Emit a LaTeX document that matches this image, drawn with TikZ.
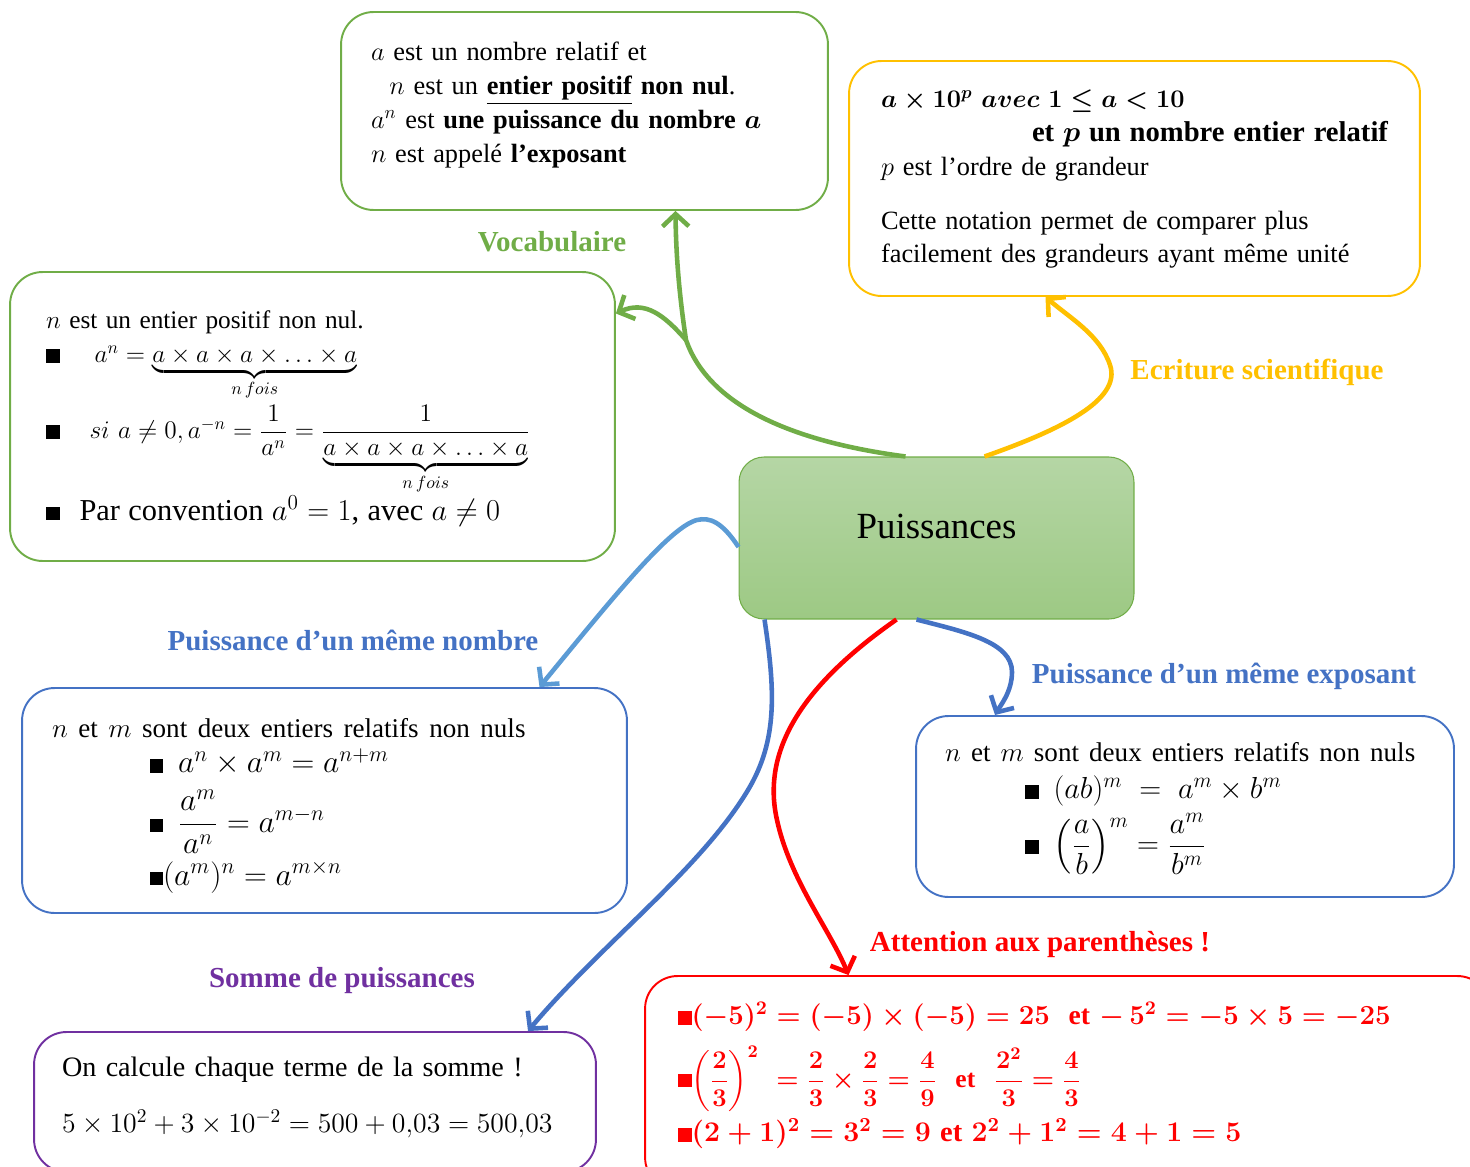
\RequirePackage{fix-cm}
\documentclass[tikz,border=0pt]{standalone}
\usepackage{amsmath, amssymb}
\usepackage{fontspec}
\setmainfont{Liberation Serif}
\usepackage{tikz}
\usetikzlibrary{arrows.meta,calc}

\definecolor{vertG}{RGB}{112,173,71}
\definecolor{jaune}{RGB}{255,192,0}
\definecolor{bleuC}{RGB}{91,155,213}
\definecolor{bleuF}{RGB}{68,114,196}
\definecolor{violet}{RGB}{112,48,160}
\definecolor{vertHaut}{RGB}{181,214,165}
\definecolor{vertBas}{RGB}{157,201,132}

\newcommand{\puce}{\rule{0.27cm}{0.27cm}}

\begin{document}
\begin{tikzpicture}[x=0.02cm, y=-0.02cm,
    every node/.style={font=\fontsize{15}{19.3}\selectfont},
    boite/.style={draw, line width=1.1pt, rounded corners=0.65cm, align=left, inner ysep=0pt},
    fleche/.style={line width=2.6pt, -{Straight Barb[length=7pt,width=15pt]}},
    etiquette/.style={font=\fontsize{16.5}{20}\selectfont\bfseries}]

    % 1. Cadre de l'image
    \clip (0,0) rectangle (1470,1166);

    % 2. Noeud central
    \node[draw=vertG, line width=0.6pt, rounded corners=0.5cm, top color=vertHaut, bottom color=vertBas,
          minimum width=7.9cm, minimum height=3.24cm, text depth=0.45cm,
          font=\fontsize{21}{25}\selectfont] (centre) at (936.5,538) {Puissances};

    % 3. Boites du haut
    \node[boite, draw=vertG, minimum height=3.96cm, text width=8.54cm, inner xsep=0.6cm, text depth=2.4cm] (vocab) at (584.5,111) {
        $a$ est un nombre relatif et\\
        \hspace*{0.7em}$n$ est un \underline{\textbf{entier positif}} \textbf{non nul}.\\
        $a^n$ est \textbf{une puissance du nombre $\boldsymbol{a}$}\\
        $n$ est appelé \textbf{l’exposant}};

    \node[boite, draw=jaune, minimum height=4.7cm, text width=10.14cm, inner xsep=0.64cm, text depth=3.2cm] (sci) at (1134.5,178.5) {
        {\fontsize{14.4}{19.3}\selectfont\boldmath $a\times 10^{p}\ avec\ 1\leq a<10$}\\
        \hspace*{0pt plus 1filll}{\fontsize{16.3}{19.3}\selectfont\bfseries et \boldmath$p$ un nombre entier relatif}\\
        $p$ est l’ordre de grandeur\\[0.4cm]
        Cette notation permet de comparer plus\\
        facilement des grandeurs ayant même unité};

    \node[boite, draw=vertG, minimum height=5.78cm, text width=10.66cm, inner xsep=0.72cm, text depth=3.86cm,
          font=\fontsize{14.4}{19.3}\selectfont] (defin) at (312.5,416.5) {
        $n$ est un entier positif non nul.\\
        \puce\hspace{0.7cm}$a^n=\underbrace{a\times a\times a\times\ldots\times a}_{n\,fois}$\\[0.05cm]
        \puce\hspace{0.6cm}$si\ a\neq0, a^{-n}=\dfrac{1}{a^n}=\dfrac{1}{\underbrace{a\times a\times a\times\ldots\times a}_{n\,fois}}$\\
        \puce\hspace{0.4cm}{\fontsize{17.3}{20}\selectfont Par convention $a^0=1$, avec $a\neq0$}};

    % 4. Boites du milieu
    \node[boite, draw=bleuF, minimum height=4.5cm, text width=10.9cm, inner xsep=0.6cm, text depth=2.89cm,
          font=\fontsize{18}{20}\selectfont] (nombre) at (324.5,800.5) {
        \mbox{\fontsize{15.4}{20}\selectfont $n$ et $m$ sont deux entiers relatifs non nuls}\\
        \hspace*{1.95cm}\puce\hspace{0.3cm}$a^n\times a^m=a^{n+m}$\\[0.25cm]
        \hspace*{1.95cm}\puce\hspace{0.3cm}$\dfrac{a^m}{a^n}=a^{m-n}$\\[0.1cm]
        \hspace*{1.95cm}\puce$(a^m)^n=a^{m\times n}$};

    \node[boite, draw=bleuF, minimum height=3.62cm, text width=9.6cm, inner xsep=0.58cm, text depth=2.17cm,
          font=\fontsize{17.3}{21}\selectfont] (exposant) at (1185,806.5) {
        \mbox{\fontsize{15.4}{20}\selectfont $n$ et $m$ sont deux entiers relatifs non nuls}\\
        \hspace*{1.6cm}\puce\hspace{0.3cm}$(ab)^m\;=\;a^m\times b^m$\\[0.1cm]
        \hspace*{1.6cm}\puce\hspace{0.3cm}$\left(\dfrac{a}{b}\right)^{m}=\dfrac{a^m}{b^m}$};

    % 5. Boites du bas
    \node[boite, draw=violet, minimum height=2.8cm, text width=10.12cm, inner xsep=0.56cm, text depth=1.43cm,
          font=\fontsize{16}{20}\selectfont] (somme) at (315,1102) {
        On calcule chaque terme de la somme !\\[0.42cm]
        {\fontsize{15.8}{20}\selectfont $5\times10^2+3\times10^{-2}=500+0{,}03=500{,}03$}\hspace*{\fill}};

    \node[boite, draw=red, minimum height=4.28cm, text width=15.58cm, inner xsep=0.66cm, text depth=2.78cm, text=red,
          font=\fontsize{16}{21}\selectfont\bfseries\boldmath] (attention) at (1067.5,1083) {
        \puce{\fontsize{15.7}{21}\selectfont$(-5)^2=(-5)\times(-5)=25$\ \ et $-\,5^2=-5\times5=-25$}\\[0.25cm]
        \puce{\fontsize{14.5}{21}\selectfont$\left(\dfrac{2}{3}\right)^{2}\ =\dfrac{2}{3}\times\dfrac{2}{3}=\dfrac{4}{9}$\ \ et\ \ $\dfrac{2^2}{3}=\dfrac{4}{3}$}\\[0.1cm]
        \puce{\fontsize{16.2}{21}\selectfont$(2+1)^2=3^2=9$\ et\ $2^2+1^2=4+1=5$}};

    % 6. Etiquettes des branches
    \node[etiquette, text=vertG] (lvocab) at (552,242) {Vocabulaire};
    \node[etiquette, text=jaune] (lsci) at (1257,372) {Ecriture scientifique};
    \node[etiquette, text=bleuF] (lnombre) at (353,640) {Puissance d’un même nombre};
    \node[etiquette, text=bleuF] (lexposant) at (1224,676) {Puissance d’un même exposant};
    \node[etiquette, text=red] (lattention) at (1040,945) {Attention aux parenthèses !};
    \node[etiquette, text=violet] (lsomme) at (342,981) {Somme de puissances};

    % 7. Branches
    \coordinate (fourche) at (686,340);
    \draw[fleche, vertG] ($(centre.north)+(-31,0)$) .. controls (780,440) and (707,400) .. (fourche)
        .. controls (680,300) and (676,260) .. ($(vocab.south)+(91,0)$);
    \draw[fleche, vertG] (fourche) .. controls (664,315) and (645,300) .. ($(defin.east)+(0,-103)$);
    \draw[fleche, jaune] ($(centre.north)+(48,0)$) .. controls (1060,430) and (1122,400) .. (1110,365)
        .. controls (1100,335) and (1070,318) .. ($(sci.south)+(-89,0)$);
    \draw[fleche, bleuC] ($(centre.west)+(0,9)$) .. controls (722,522) and (710,517) .. (697,520)
        .. controls (670,527) and (615,595) .. ($(nombre.north)+(215,0)$);
    \draw[fleche, bleuF] ($(centre.south west)+(26,0)$) .. controls (775,690) and (778,740) .. (748,790)
        .. controls (700,870) and (600,945) .. ($(somme.north)+(213,0)$);
    \draw[fleche, red] ($(centre.south)+(-40,0)$) .. controls (810,680) and (760,745) .. (777,820)
        .. controls (790,880) and (830,930) .. ($(attention.north)+(-219,0)$);
    \draw[fleche, bleuF] ($(centre.south)+(-20,0)$) .. controls (965,632) and (1012,642) .. (1012,672)
        .. controls (1012,692) and (1000,706) .. ($(exposant.north)+(-190,0)$);

\end{tikzpicture}
\end{document}
